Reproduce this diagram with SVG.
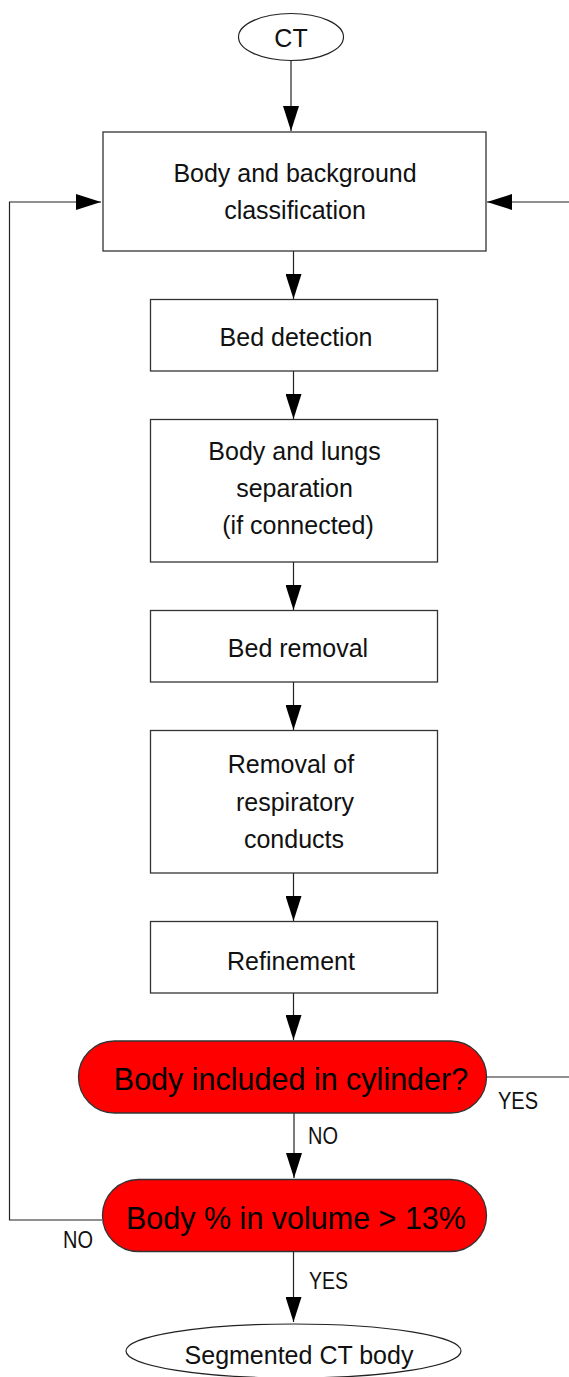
<svg xmlns="http://www.w3.org/2000/svg" width="569" height="1377" viewBox="0 0 569 1377">
  <style>
    .box { fill: #ffffff; stroke: #333333; stroke-width: 1.3; }
    .dec { fill: #ff0000; stroke: #333333; stroke-width: 1.3; }
    .term { fill: #ffffff; stroke: #222222; stroke-width: 1.2; }
    .lbl { font-family: "Liberation Sans", Arial, sans-serif; font-size: 25px; fill: #111111; text-anchor: middle; }
    .big { font-family: "Liberation Sans", Arial, sans-serif; font-size: 30.5px; fill: #000000; text-anchor: middle; }
    .tag { font-family: "Liberation Sans", Arial, sans-serif; font-size: 23px; fill: #111111; }
    .wire { fill: none; stroke: #222222; stroke-width: 1.2; }
    .arrow { fill: none; stroke: #222222; stroke-width: 1.2; marker-end: url(#head); }
  </style>
  <defs>
    <!-- solid triangular arrowhead, tip at the end of the line -->
    <marker id="head" viewBox="0 0 25 16" refX="25" refY="8" markerWidth="25" markerHeight="16" markerUnits="userSpaceOnUse" orient="auto">
      <path d="M0,0 L25,8 L0,16 Z" fill="#000000"/>
    </marker>
  </defs>
  <rect width="569" height="1377" fill="#ffffff"/>

  <!-- connectors -->
  <g id="connectors">
    <path class="arrow" d="M291,60 V131"/>
    <path class="arrow" d="M293.5,251 V299"/>
    <path class="arrow" d="M293.5,371 V419"/>
    <path class="arrow" d="M293.5,562 V610"/>
    <path class="arrow" d="M293.5,682 V730"/>
    <path class="arrow" d="M293.5,873 V921"/>
    <path class="arrow" d="M293.5,993 V1040"/>

    <!-- NO: cylinder test to volume test -->
    <path class="arrow" d="M294,1113 V1178"/>
    <text class="tag" x="308" y="1144" textLength="30" lengthAdjust="spacingAndGlyphs">NO</text>

    <!-- YES: cylinder test exits right, re-enters classification -->
    <path class="wire" d="M486,1077 H569"/>
    <text class="tag" x="498" y="1109" textLength="40" lengthAdjust="spacingAndGlyphs">YES</text>
    <path class="arrow" d="M569,202 H487"/>

    <!-- NO: volume test loops back left -->
    <path class="arrow" d="M102,1220 H9.5 V202 H101"/>
    <text class="tag" x="63" y="1248" textLength="30" lengthAdjust="spacingAndGlyphs">NO</text>

    <!-- YES: volume test to output -->
    <path class="arrow" d="M293.5,1252 V1322"/>
    <text class="tag" x="309" y="1289" textLength="39" lengthAdjust="spacingAndGlyphs">YES</text>
  </g>

  <!-- start -->
  <g id="n-ct">
    <ellipse class="term" cx="291" cy="37" rx="52.5" ry="23.5"/>
    <text class="lbl" x="291" y="47" font-size="26">CT</text>
  </g>

  <g id="n-classification">
    <rect class="box" x="103" y="132" width="383" height="119"/>
    <text class="lbl" x="295" y="182">Body and background</text>
    <text class="lbl" x="295" y="219">classification</text>
  </g>

  <g id="n-bed-detection">
    <rect class="box" x="150.5" y="299.5" width="287" height="71.5"/>
    <text class="lbl" x="296" y="346">Bed detection</text>
  </g>

  <g id="n-separation">
    <rect class="box" x="150.5" y="419.5" width="287" height="142.5"/>
    <text class="lbl" x="294.5" y="460">Body and lungs</text>
    <text class="lbl" x="294.5" y="497">separation</text>
    <text class="lbl" x="298" y="534">(if connected)</text>
  </g>

  <g id="n-bed-removal">
    <rect class="box" x="150.5" y="610.5" width="287" height="71.5"/>
    <text class="lbl" x="298" y="657">Bed removal</text>
  </g>

  <g id="n-respiratory">
    <rect class="box" x="150.5" y="730.5" width="287" height="142.5"/>
    <text class="lbl" x="291" y="773">Removal of</text>
    <text class="lbl" x="295" y="811">respiratory</text>
    <text class="lbl" x="294" y="848">conducts</text>
  </g>

  <g id="n-refinement">
    <rect class="box" x="150.5" y="921.5" width="287" height="71.5"/>
    <text class="lbl" x="291" y="970">Refinement</text>
  </g>

  <g id="n-cylinder">
    <rect class="dec" x="78.5" y="1041" width="408" height="72" rx="36" ry="36"/>
    <text class="big" x="291" y="1090">Body included in cylinder?</text>
  </g>

  <g id="n-volume">
    <rect class="dec" x="102.5" y="1179.5" width="384" height="72" rx="36" ry="36"/>
    <text class="big" x="296" y="1229">Body % in volume &gt; 13%</text>
  </g>

  <!-- output -->
  <g id="n-segmented">
    <ellipse class="term" cx="293.5" cy="1351" rx="167.5" ry="27"/>
    <text class="lbl" x="299" y="1364">Segmented CT body</text>
  </g>
</svg>
